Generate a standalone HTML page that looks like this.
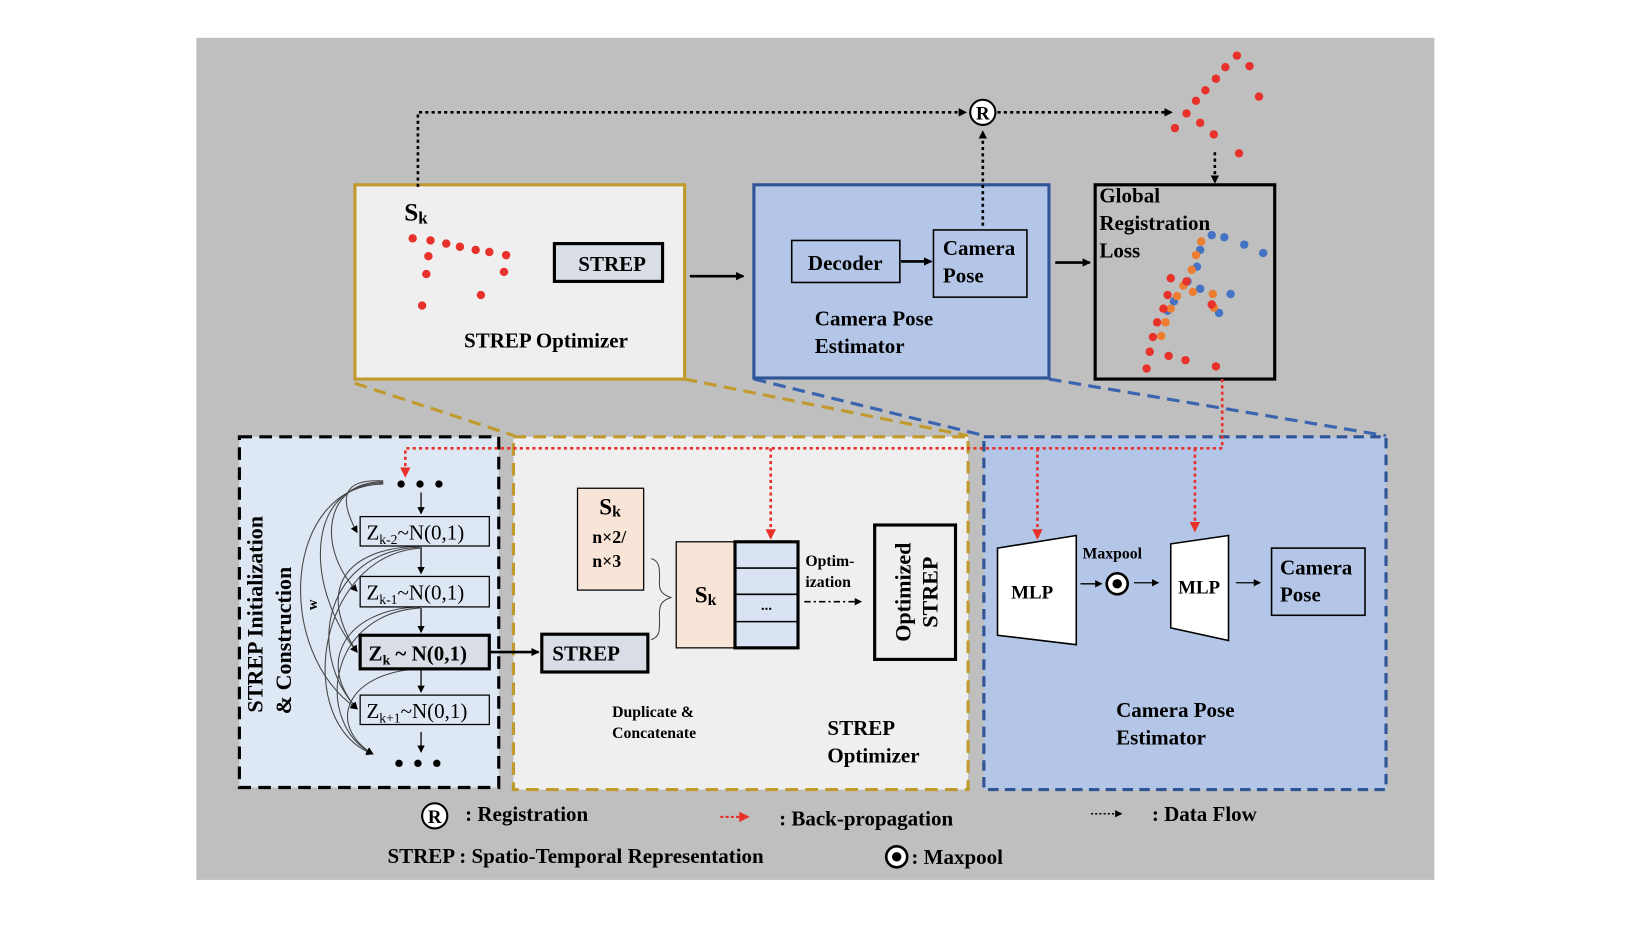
<!DOCTYPE html>
<html><head><meta charset="utf-8"><style>
html,body{margin:0;padding:0;background:#fff;}
svg{display:block;}
text{font-family:"Liberation Serif",serif !important;font-weight:bold;fill:#000;}
</style></head><body>
<svg width="1646" height="926" viewBox="0 0 1567.6 881.9" xmlns="http://www.w3.org/2000/svg">
<defs>
<marker id="ab" markerWidth="8" markerHeight="8" refX="7" refY="4" orient="auto" markerUnits="userSpaceOnUse"><path d="M0,0 L8,4 L0,8 z" fill="#000"/></marker>
<marker id="ar" markerWidth="10" markerHeight="10" refX="8" refY="5" orient="auto" markerUnits="userSpaceOnUse"><path d="M0,0 L10,5 L0,10 z" fill="#e8312a"/></marker>
<marker id="as" markerWidth="7" markerHeight="7" refX="6" refY="3.5" orient="auto" markerUnits="userSpaceOnUse"><path d="M0,0 L7,3.5 L0,7 z" fill="#000"/></marker>
</defs>
<rect x="187" y="36" width="1179" height="802" fill="#bfbfbf"/>

<line x1="338" y1="365" x2="490" y2="415" stroke="#c19a2e" stroke-width="3" stroke-dasharray="12,7"/>
<line x1="652" y1="361" x2="922" y2="415" stroke="#c19a2e" stroke-width="3" stroke-dasharray="12,7"/>
<line x1="718" y1="361" x2="938" y2="415" stroke="#3b64b0" stroke-width="3" stroke-dasharray="12,7"/>
<line x1="999" y1="361" x2="1320" y2="415" stroke="#3b64b0" stroke-width="3" stroke-dasharray="12,7"/>

<rect x="338" y="176" width="314" height="185" fill="#efefef" stroke="#c19a2e" stroke-width="3"/>
<text x="385" y="210" font-size="24">S<tspan font-size="16" dy="3">k</tspan></text>
<g fill="#e8312a">
<circle cx="393" cy="227" r="4"/><circle cx="410" cy="229" r="4"/><circle cx="425" cy="232" r="4"/><circle cx="438" cy="235" r="4"/><circle cx="453" cy="238" r="4"/><circle cx="466" cy="240" r="4"/><circle cx="482" cy="243" r="4"/><circle cx="408" cy="244" r="4"/><circle cx="406" cy="261" r="4"/><circle cx="480" cy="259" r="4"/><circle cx="458" cy="281" r="4"/><circle cx="402" cy="291" r="4"/>
</g>
<rect x="528" y="232" width="103" height="36" fill="#d9dde6" stroke="#000" stroke-width="3"/>
<text x="583" y="258" font-size="20" text-anchor="middle">STREP</text>
<text x="520" y="331" font-size="20" text-anchor="middle">STREP Optimizer</text>
<line x1="657" y1="263" x2="708" y2="263" stroke="#000" stroke-width="2.5" marker-end="url(#ab)"/>

<rect x="718" y="176" width="281" height="184" fill="#b4c6e7" stroke="#2f5597" stroke-width="3"/>
<rect x="754" y="229" width="103" height="40" fill="#b4c6e7" stroke="#000" stroke-width="1.5"/>
<text x="805" y="257" font-size="20" text-anchor="middle">Decoder</text>
<line x1="858" y1="249" x2="887" y2="249" stroke="#000" stroke-width="2.5" marker-end="url(#ab)"/>
<rect x="889" y="219" width="89" height="64" fill="#b4c6e7" stroke="#000" stroke-width="1.5"/>
<text x="898" y="243" font-size="20">Camera</text>
<text x="898" y="269" font-size="20">Pose</text>
<text x="776" y="310" font-size="20">Camera Pose</text>
<text x="776" y="336" font-size="20">Estimator</text>
<line x1="1005" y1="250" x2="1038" y2="250" stroke="#000" stroke-width="2.5" marker-end="url(#ab)"/>

<rect x="1043" y="176" width="171" height="185" fill="none" stroke="#000" stroke-width="3"/>
<text x="1047" y="193" font-size="20">Global</text>
<text x="1047" y="219" font-size="20">Registration</text>
<text x="1047" y="245" font-size="20">Loss</text>
<g fill="#4472c4">
<circle cx="1154" cy="224" r="4"/><circle cx="1166" cy="226" r="4"/><circle cx="1185" cy="233" r="4"/><circle cx="1203" cy="241" r="4"/><circle cx="1143" cy="238" r="4"/><circle cx="1140" cy="254" r="4"/><circle cx="1131" cy="268" r="4"/><circle cx="1143" cy="275" r="4"/><circle cx="1172" cy="280" r="4"/><circle cx="1161" cy="298" r="4"/><circle cx="1118" cy="287" r="4"/><circle cx="1112" cy="296" r="4"/>
</g>
<g fill="#ed7d31">
<circle cx="1144" cy="230" r="4"/><circle cx="1139" cy="243" r="4"/><circle cx="1135" cy="257" r="4"/><circle cx="1127" cy="272" r="4"/><circle cx="1136" cy="278" r="4"/><circle cx="1121" cy="282" r="4"/><circle cx="1155" cy="280" r="4"/><circle cx="1156" cy="293" r="4"/><circle cx="1115" cy="294" r="4"/><circle cx="1110" cy="307" r="4"/><circle cx="1106" cy="320" r="4"/>
</g>
<g fill="#e8312a">
<circle cx="1115" cy="265" r="4"/><circle cx="1130" cy="268" r="4"/><circle cx="1112" cy="281" r="4"/><circle cx="1108" cy="294" r="4"/><circle cx="1102" cy="307" r="4"/><circle cx="1098" cy="321" r="4"/><circle cx="1095" cy="335" r="4"/><circle cx="1113" cy="339" r="4"/><circle cx="1129" cy="343" r="4"/><circle cx="1092" cy="351" r="4"/><circle cx="1158" cy="349" r="4"/><circle cx="1154" cy="290" r="4"/>
</g>
<g fill="#e8312a">
<circle cx="1178" cy="53" r="4"/><circle cx="1190" cy="63" r="4"/><circle cx="1167" cy="64" r="4"/><circle cx="1158" cy="75" r="4"/><circle cx="1148" cy="86" r="4"/><circle cx="1139" cy="96" r="4"/><circle cx="1199" cy="92" r="4"/><circle cx="1130" cy="108" r="4"/><circle cx="1119" cy="122" r="4"/><circle cx="1143" cy="117" r="4"/><circle cx="1156" cy="128" r="4"/><circle cx="1180" cy="146" r="4"/>
</g>

<g stroke="#000" stroke-width="2.5" stroke-dasharray="3,3" fill="none">
<polyline points="398,178 398,107 920,107" marker-end="url(#ab)"/>
<line x1="950" y1="107" x2="1116" y2="107" marker-end="url(#ab)"/>
<line x1="936" y1="215" x2="936" y2="125" marker-end="url(#ab)"/>
<line x1="1157" y1="145" x2="1157" y2="174" marker-end="url(#ab)"/>
</g>
<circle cx="936" cy="107" r="12" fill="#fff" stroke="#000" stroke-width="2"/>
<text x="936" y="114" font-size="18" text-anchor="middle">R</text>

<rect x="228" y="416" width="247" height="334" fill="#dee8f4" stroke="#000" stroke-width="3" stroke-dasharray="12,7"/>
<text transform="translate(250,585) rotate(-90)" font-size="21" text-anchor="middle">STREP Initialization</text>
<text transform="translate(277,610) rotate(-90)" font-size="21" text-anchor="middle">&amp; Construction</text>
<text transform="translate(302,576) rotate(-90)" font-size="14" text-anchor="middle">w</text>
<g fill="#000"><circle cx="382" cy="461" r="3.5"/><circle cx="400" cy="461" r="3.5"/><circle cx="418" cy="461" r="3.5"/>
<circle cx="380" cy="727" r="3.5"/><circle cx="398" cy="727" r="3.5"/><circle cx="416" cy="727" r="3.5"/></g>
<g fill="none" stroke="#444" stroke-width="1">
<path d="M365,458 C330,456 320,470 340,507" marker-end="url(#as)"/>
<path d="M365,459 C310,458 300,520 340,563" marker-end="url(#as)"/>
<path d="M365,460 C290,460 290,560 340,621" marker-end="url(#as)"/>
<path d="M365,461 C270,462 260,620 340,675" marker-end="url(#as)"/>
<path d="M400,520 C330,522 300,560 340,621" marker-end="url(#as)"/>
<path d="M400,521 C310,525 290,620 340,675" marker-end="url(#as)"/>
<path d="M400,522 C300,530 280,690 355,718" marker-end="url(#as)"/>
<path d="M400,578 C330,580 300,630 340,675" marker-end="url(#as)"/>
<path d="M400,579 C310,585 300,690 355,718" marker-end="url(#as)"/>
<path d="M400,637 C330,640 310,690 355,718" marker-end="url(#as)"/>
</g>
<g stroke="#000" stroke-width="1.2">
<line x1="401" y1="469" x2="401" y2="489" marker-end="url(#as)"/>
<line x1="401" y1="521" x2="401" y2="546" marker-end="url(#as)"/>
<line x1="401" y1="579" x2="401" y2="602" marker-end="url(#as)"/>
<line x1="401" y1="638" x2="401" y2="659" marker-end="url(#as)"/>
<line x1="401" y1="697" x2="401" y2="716" marker-end="url(#as)"/>
</g>
<rect x="343" y="492" width="123" height="28" fill="#dee8f4" stroke="#000" stroke-width="1.2"/>
<text x="349" y="514" font-size="20" style="font-weight:normal">Z<tspan font-size="13" dy="4">k-2</tspan><tspan dy="-4">~N(0,1)</tspan></text>
<rect x="343" y="549" width="123" height="29" fill="#dee8f4" stroke="#000" stroke-width="1.2"/>
<text x="349" y="571" font-size="20" style="font-weight:normal">Z<tspan font-size="13" dy="4">k-1</tspan><tspan dy="-4">~N(0,1)</tspan></text>
<rect x="343" y="605" width="123" height="32" fill="#d9dde6" stroke="#000" stroke-width="3"/>
<text x="351" y="629" font-size="20">Z<tspan font-size="13" dy="4">k</tspan><tspan dy="-4"> ~ N(0,1)</tspan></text>
<rect x="343" y="662" width="123" height="28" fill="#dee8f4" stroke="#000" stroke-width="1.2"/>
<text x="349" y="684" font-size="20" style="font-weight:normal">Z<tspan font-size="13" dy="4">k+1</tspan><tspan dy="-4">~N(0,1)</tspan></text>

<rect x="489" y="416" width="433" height="336" fill="#efefef" stroke="#c19a2e" stroke-width="3" stroke-dasharray="12,7"/>
<line x1="467" y1="621" x2="513" y2="621" stroke="#000" stroke-width="2.5" marker-end="url(#ab)"/>
<rect x="550" y="465" width="63" height="97" fill="#f8e5d8" stroke="#000" stroke-width="1.2"/>
<text x="581" y="490" font-size="22" text-anchor="middle">S<tspan font-size="15" dy="2">k</tspan></text>
<text x="564" y="517" font-size="17">n×2/</text>
<text x="564" y="540" font-size="17">n×3</text>
<path d="M620,532 C630,534 628,546 628,556 C628,562 630,566 639,569 C630,572 628,576 628,585 C628,596 630,607 620,609" fill="none" stroke="#444" stroke-width="1"/>
<rect x="516" y="604" width="101" height="36" fill="#d9dde6" stroke="#000" stroke-width="3"/>
<text x="526" y="629" font-size="20">STREP</text>
<rect x="644" y="516" width="56" height="101" fill="#f8e5d8" stroke="#000" stroke-width="1.2"/>
<text x="672" y="574" font-size="22" text-anchor="middle">S<tspan font-size="15" dy="2">k</tspan></text>
<rect x="700" y="516" width="60" height="101" fill="#dae3f3" stroke="#000" stroke-width="3"/>
<line x1="700" y1="541" x2="760" y2="541" stroke="#000" stroke-width="1.5"/>
<line x1="700" y1="566" x2="760" y2="566" stroke="#000" stroke-width="1.5"/>
<line x1="700" y1="592" x2="760" y2="592" stroke="#000" stroke-width="1.5"/>
<text x="730" y="581" font-size="14" text-anchor="middle">...</text>
<text x="767" y="539" font-size="15">Optim-</text>
<text x="767" y="559" font-size="15">ization</text>
<line x1="766" y1="573" x2="820" y2="573" stroke="#000" stroke-width="1.5" stroke-dasharray="6,3,2,3" marker-end="url(#as)"/>
<rect x="833" y="500" width="77" height="128" fill="#efefef" stroke="#000" stroke-width="3"/>
<text transform="translate(867,564) rotate(-90)" font-size="21" text-anchor="middle">Optimized</text>
<text transform="translate(893,564) rotate(-90)" font-size="21" text-anchor="middle">STREP</text>
<text x="583" y="683" font-size="15">Duplicate &amp;</text>
<text x="583" y="703" font-size="15">Concatenate</text>
<text x="788" y="700" font-size="20">STREP</text>
<text x="788" y="726" font-size="20">Optimizer</text>

<rect x="937" y="416" width="383" height="336" fill="#b4c6e7" stroke="#2f5597" stroke-width="3" stroke-dasharray="10,6"/>
<polygon points="950,522 1025,510 1025,614 950,605" fill="#fff" stroke="#000" stroke-width="1.5"/>
<text x="983" y="570" font-size="18" text-anchor="middle">MLP</text>
<text x="1031" y="532" font-size="15">Maxpool</text>
<line x1="1029" y1="556" x2="1049" y2="556" stroke="#000" stroke-width="1.3" marker-end="url(#as)"/>
<circle cx="1064" cy="556" r="10" fill="#fff" stroke="#000" stroke-width="2.5"/>
<circle cx="1064" cy="556" r="4.5" fill="#000"/>
<line x1="1080" y1="555" x2="1103" y2="555" stroke="#000" stroke-width="1.3" marker-end="url(#as)"/>
<polygon points="1115,518 1170,510 1170,610 1115,598" fill="#fff" stroke="#000" stroke-width="1.5"/>
<text x="1142" y="565" font-size="18" text-anchor="middle">MLP</text>
<line x1="1177" y1="555" x2="1200" y2="555" stroke="#000" stroke-width="1.3" marker-end="url(#as)"/>
<rect x="1211" y="522" width="89" height="64" fill="#b4c6e7" stroke="#000" stroke-width="1.5"/>
<text x="1219" y="547" font-size="20">Camera</text>
<text x="1219" y="573" font-size="20">Pose</text>
<text x="1063" y="683" font-size="20">Camera Pose</text>
<text x="1063" y="709" font-size="20">Estimator</text>

<g stroke="#e8312a" stroke-width="2.5" stroke-dasharray="3,3" fill="none">
<polyline points="1164,361 1164,427 386,427 386,453" marker-end="url(#ar)"/>
<line x1="734" y1="427" x2="734" y2="512" marker-end="url(#ar)"/>
<line x1="988" y1="427" x2="988" y2="512" marker-end="url(#ar)"/>
<line x1="1138" y1="427" x2="1138" y2="505" marker-end="url(#ar)"/>
</g>

<circle cx="414" cy="777" r="12" fill="#fff" stroke="#000" stroke-width="2"/>
<text x="414" y="784" font-size="18" text-anchor="middle">R</text>
<text x="443" y="782" font-size="20">: Registration</text>
<line x1="686" y1="778" x2="712" y2="778" stroke="#e8312a" stroke-width="2" stroke-dasharray="3,2" marker-end="url(#ar)"/>
<text x="742" y="786" font-size="20">: Back-propagation</text>
<line x1="1039" y1="775" x2="1068" y2="775" stroke="#000" stroke-width="1.5" stroke-dasharray="2,2" marker-end="url(#as)"/>
<text x="1097" y="782" font-size="20">: Data Flow</text>
<text x="369" y="822" font-size="20">STREP : Spatio-Temporal Representation</text>
<circle cx="854" cy="816" r="10" fill="#fff" stroke="#000" stroke-width="2.5"/>
<circle cx="854" cy="816" r="4.5" fill="#000"/>
<text x="868" y="823" font-size="20">: Maxpool</text>
</svg>
</body></html>
